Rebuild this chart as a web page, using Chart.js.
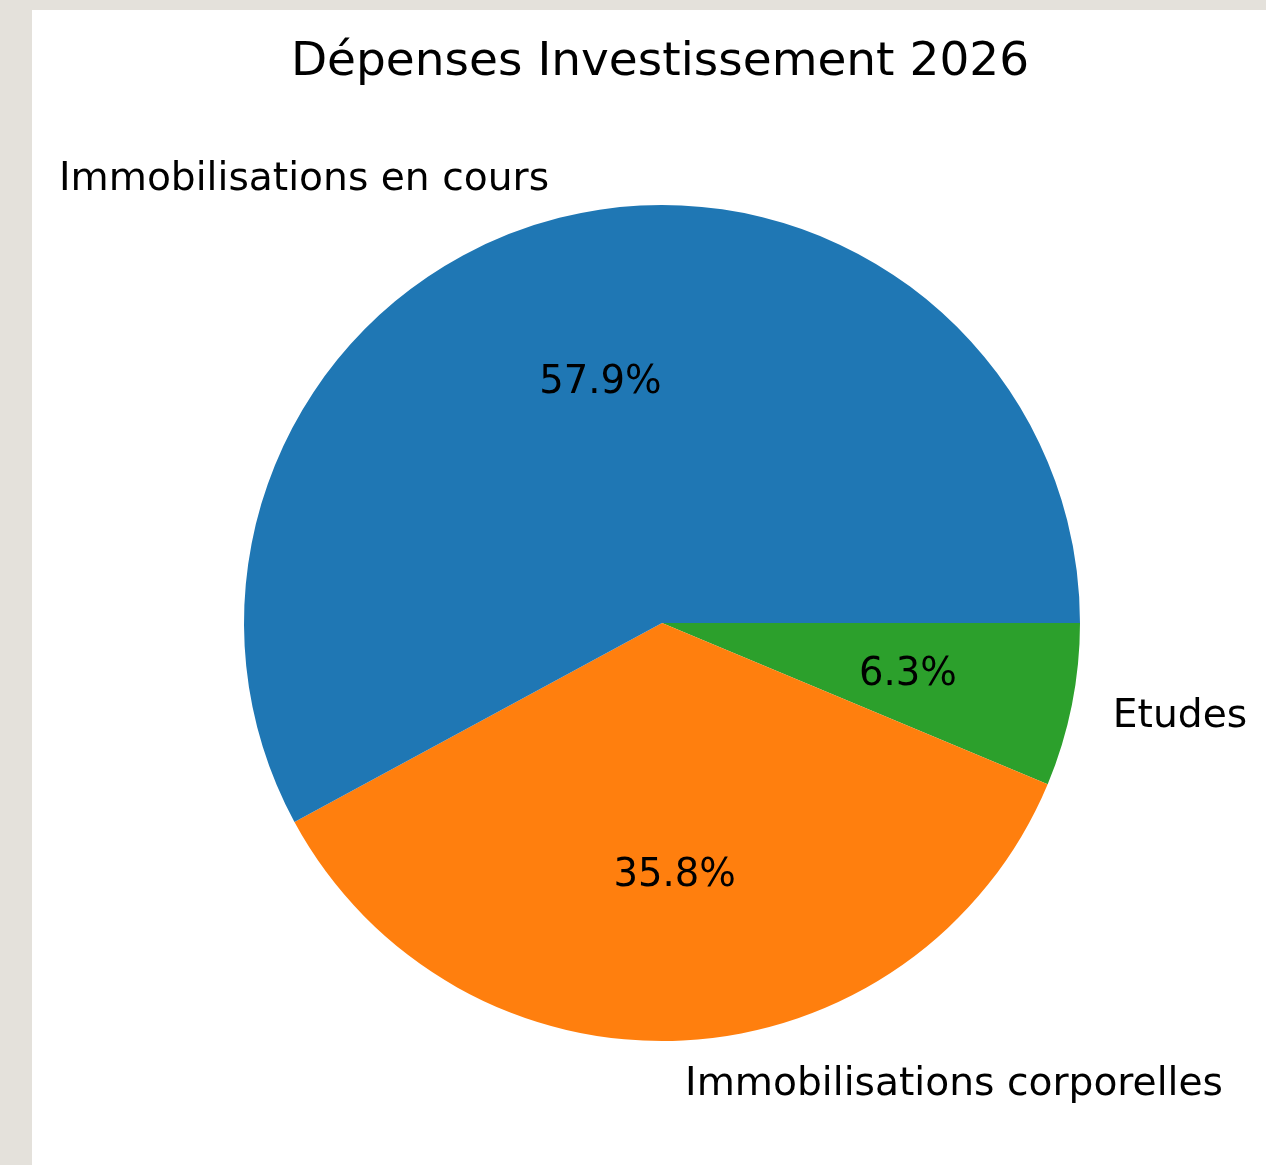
<!DOCTYPE html>
<html>
<head>
<meta charset="utf-8">
<script src="https://cdn.jsdelivr.net/npm/chart.js@4/dist/chart.umd.min.js"></script>
<style>
    html, body { margin: 0; padding: 0; background: #e4e1db; }
    #box { position: absolute; left: 32px; top: 10px; width: 1234px; height: 1155px; background: #fff; }
</style>
</head>
<body>
<div id="box"><canvas id="pie"></canvas></div>
<script>
// matplotlib draws counterclockwise from 3 o'clock, so the order is reversed here
var categories = ['Etudes', 'Immobilisations corporelles', 'Immobilisations en cours'];
var values = [6.3, 35.8, 57.9];
var colors = ['#2ca02c', '#ff7f0e', '#1f77b4'];
var title = 'Dépenses Investissement 2026';

var font = '"DejaVu Sans", sans-serif';

// labels at 1.1 r and percentages at 0.6 r, like pyplot.pie
var pieText = {
    id: 'pieText',
    afterDatasetsDraw: function (chart) {
        var ctx = chart.ctx,
            arcs = chart.getDatasetMeta(0).data,
            total = values.reduce(function (a, b) { return a + b; }, 0);

        ctx.save();
        ctx.fillStyle = '#000';

        ctx.font = '47px ' + font;
        ctx.textAlign = 'center';
        ctx.textBaseline = 'alphabetic';
        ctx.fillText(title, 628, 65);

        ctx.textBaseline = 'middle';
        arcs.forEach(function (arc, i) {
            var mid = (arc.startAngle + arc.endAngle) / 2,
                r = arc.outerRadius,
                cx = Math.cos(mid),
                cy = Math.sin(mid);

            ctx.font = '39.2px ' + font;
            ctx.textAlign = cx > 0 ? 'left' : 'right';
            ctx.fillText(categories[i], arc.x + 1.1 * r * cx, arc.y + 1.1 * r * cy + 3);

            ctx.font = '38.5px ' + font;
            ctx.textAlign = 'center';
            ctx.fillText((values[i] / total * 100).toFixed(1) + '%', arc.x + 0.6 * r * cx, arc.y + 0.6 * r * cy + 3);
        });
        ctx.restore();
    }
};

new Chart(document.getElementById('pie'), {
    type: 'pie',
    data: {
        labels: categories,
        datasets: [{
            data: values,
            backgroundColor: colors,
            borderWidth: 0,
            hoverOffset: 0
        }]
    },
    options: {
        responsive: true,
        maintainAspectRatio: false,
        animation: false,
        events: [],
        rotation: 90,
        layout: { padding: { top: 195, bottom: 124, left: 212, right: 186 } },
        plugins: {
            legend: { display: false },
            title: { display: false },
            tooltip: { enabled: false }
        }
    },
    plugins: [pieText]
});
</script>
</body>
</html>
